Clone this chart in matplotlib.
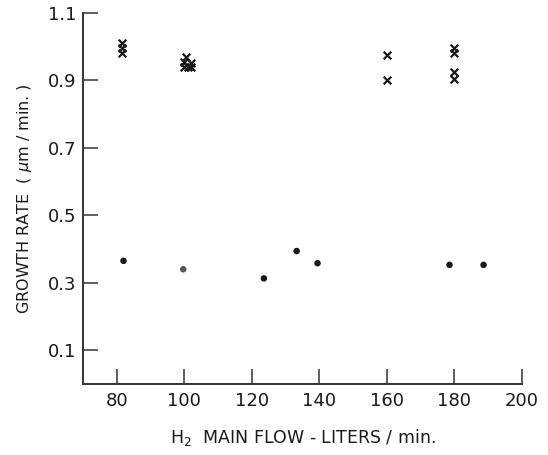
import matplotlib.pyplot as plt

# crosses (upper group)
cross_flow = [81.5, 81.5, 81.5, 100.5, 100, 102, 101, 100, 102, 160, 160, 180, 180, 180, 180]
cross_rate = [1.01, 0.995, 0.98, 0.97, 0.955, 0.95, 0.94, 0.94, 0.94, 0.975, 0.90, 0.995, 0.98, 0.925, 0.905]

# dots (lower group)
dot_flow = [82, 99.7, 123.6, 133.3, 139.5, 178.6, 188.7]
dot_rate = [0.365, 0.340, 0.313, 0.394, 0.358, 0.353, 0.353]
dot_colors = ['#1a1a1a', '#555555', '#1a1a1a', '#1a1a1a', '#1a1a1a', '#1a1a1a', '#1a1a1a']

xticks = [80, 100, 120, 140, 160, 180, 200]
yticks = [0.1, 0.3, 0.5, 0.7, 0.9, 1.1]
ytick_labels = ['0.1', '0.3', '0.5', '0.7', '0.9', '1.1']

plt.rcParams['font.family'] = ['DejaVu Sans']

fig = plt.figure(figsize=(5.48, 4.55), dpi=100)
ax = fig.add_axes([0.1515, 0.156, 0.8005, 0.816])

ax.scatter(cross_flow, cross_rate, marker='x', s=30, color='#1a1a1a', linewidths=1.6, zorder=3)
ax.scatter(dot_flow, dot_rate, marker='o', s=22, c=dot_colors, edgecolors='none', zorder=3)

ax.set_xlim(70, 200)
ax.set_ylim(0, 1.1)
ax.set_xticks(xticks)
ax.set_yticks(yticks)
ax.set_yticklabels(ytick_labels)

for side in ['top', 'right']:
    ax.spines[side].set_visible(False)
for side in ['left', 'bottom']:
    ax.spines[side].set_linewidth(1.4)
    ax.spines[side].set_color('#333333')

ax.tick_params(direction='in', length=11, width=1.1, color='#333333',
               labelsize=13, labelcolor='#1a1a1a')
ax.tick_params(axis='x', pad=6)
ax.tick_params(axis='y', pad=5)

ax.set_xlabel(r'H$_2$  MAIN FLOW - LITERS / min.', fontsize=12.5, color='#1a1a1a', labelpad=12)
ax.set_ylabel('GROWTH RATE  ( $\\mu$m / min. )', fontsize=11.5, color='#1a1a1a', labelpad=10)

plt.savefig('out.png', dpi=100)
